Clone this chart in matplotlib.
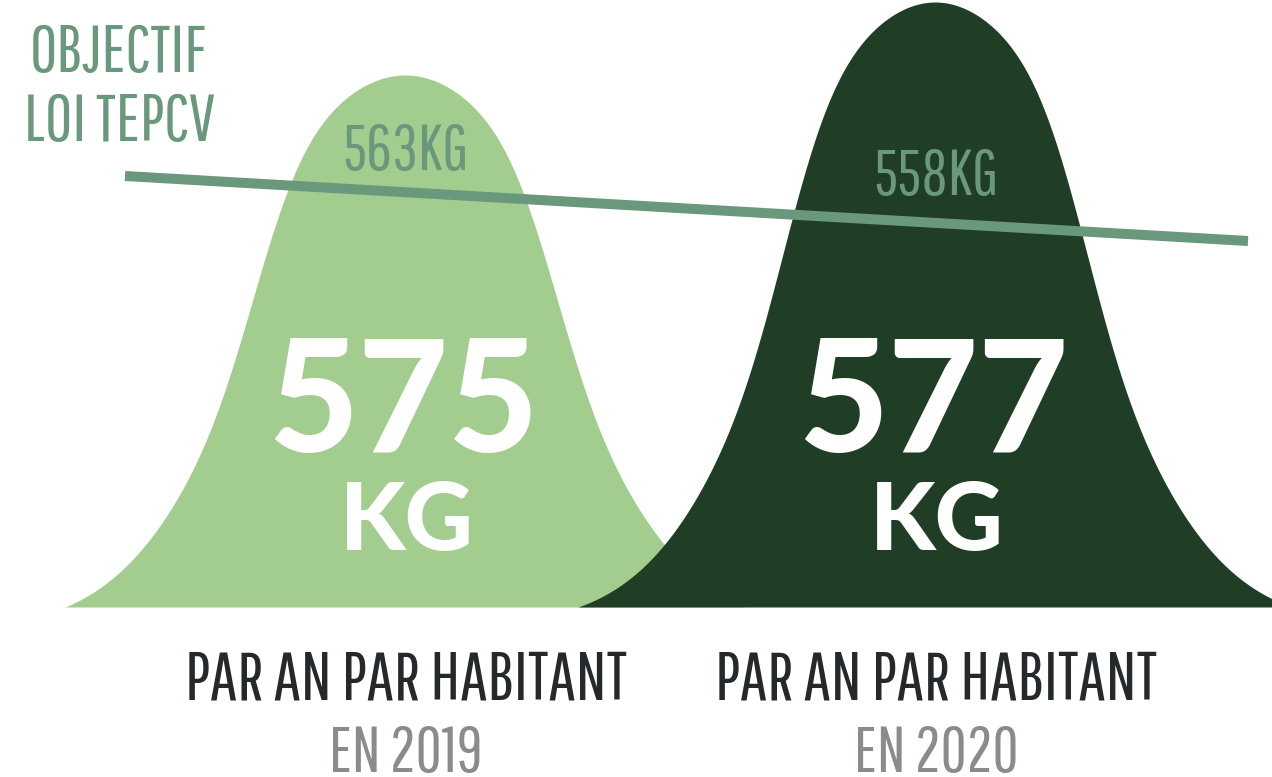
import numpy as np
import matplotlib
matplotlib.use("Agg")
import matplotlib.pyplot as plt

# données
annees = ["2019", "2020"]
totaux = [575, 577]          # kg par an par habitant
objectifs = [563, 558]       # objectif loi TEPCV

# mise en page (pixels de l'image)
centres = [405, 935]
sommets = [75, 2]
demi_bases = [340, 357]
base = 607
couleurs = ["#a3cd8f", "#203d26"]
vert_obj = "#6a987c"

fig = plt.figure(figsize=(12.72, 7.77), dpi=100)
ax = fig.add_axes([0, 0, 1, 1])
ax.set_xlim(0, 1272)
ax.set_ylim(777, 0)
ax.axis("off")


def profil(d):
    # cloche : sommet arrondi, flancs raides
    d = d / 100.0
    k = 0.12 + 0.16 * (1 - np.exp(-(d / 1.5) ** 4))
    return np.exp(-k * d ** 2)


for c, top, w, col in zip(centres, sommets, demi_bases, couleurs):
    x = np.linspace(c - w, c + w, 600)
    g = (profil(np.abs(x - c)) - profil(w)) / (1 - profil(w))
    y = base - (base - top) * g
    ax.fill_between(x, base, y, color=col, lw=0, zorder=2)

# ligne objectif
ax.plot([125, 1248], [176, 241], color=vert_obj, lw=7.2, solid_capstyle="butt", zorder=3)

cond = "Pathway Gothic One"
ax.text(30, 72, "OBJECTIF", family=cond, fontsize=48, color=vert_obj, ha="left", va="baseline")
ax.text(24, 141, "LOI TEPCV", family=cond, fontsize=48, color=vert_obj, ha="left", va="baseline")

y_obj = [170, 195]
for c, obj, yo in zip(centres, objectifs, y_obj):
    ax.text(c + 1, yo, f"{obj}KG", family=cond, fontsize=46, color=vert_obj,
            ha="center", va="baseline", zorder=4)

for c, tot, an in zip(centres, totaux, annees):
    ax.text(c - 2, 452, str(tot), family="Lato", weight="black", fontsize=112,
            color="white", ha="center", va="baseline", zorder=4)
    ax.text(c + 2, 550, "KG", family="Lato", weight="black", fontsize=68,
            color="white", ha="center", va="baseline", zorder=4)
    ax.text(c + 1, 699, "PAR AN PAR HABITANT", family=cond, fontsize=49.5,
            color="#25292b", ha="center", va="baseline")
    ax.text(c + 1, 772, f"EN {an}", family=cond, fontsize=46,
            color="#8a8c8c", ha="center", va="baseline")

fig.savefig("out.png")
